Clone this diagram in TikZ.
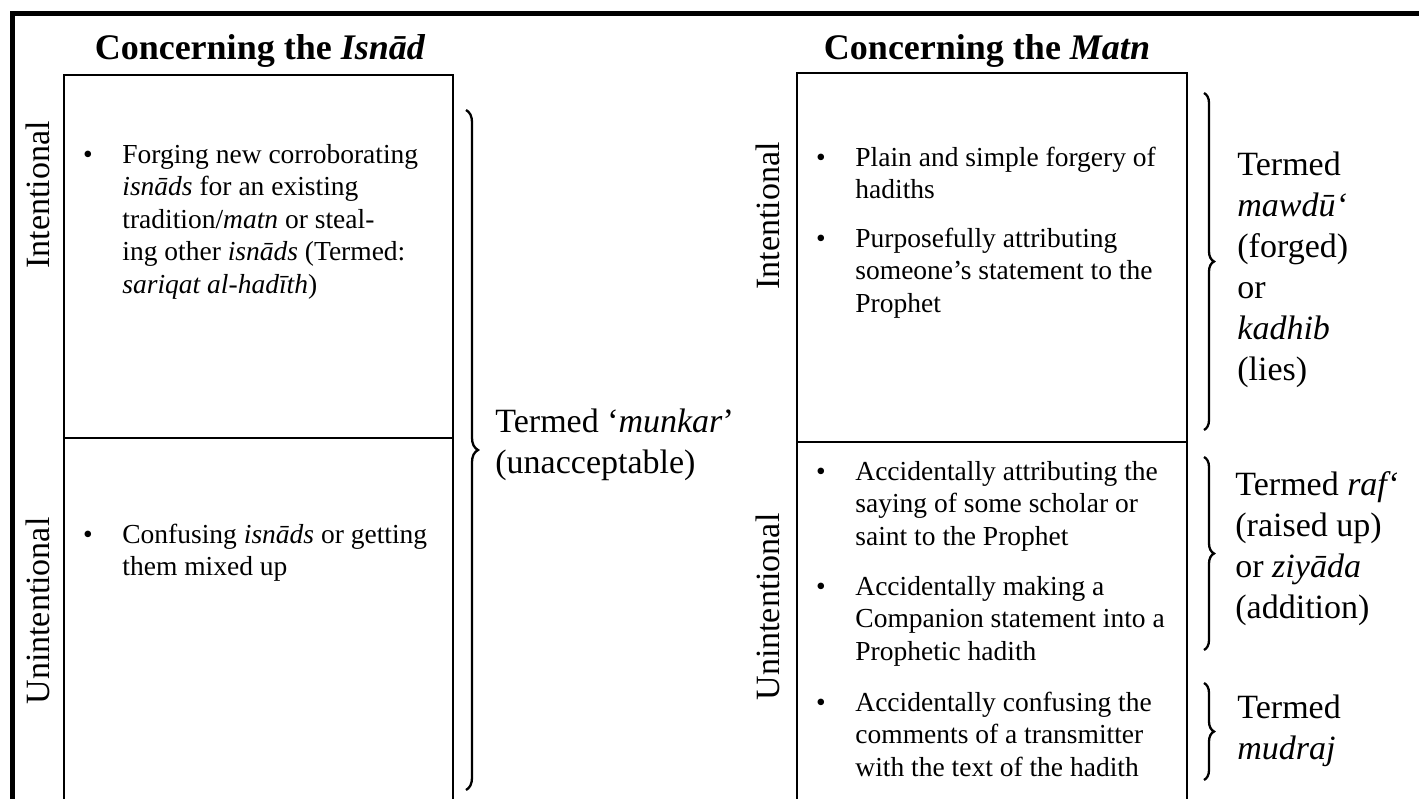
\documentclass[tikz,border=0pt]{standalone}
\usepackage{fontspec}
\setmainfont{Liberation Serif}
\usetikzlibrary{decorations.pathreplacing}
\newcommand{\tabl}[1]{\begin{tabular}[t]{@{}l@{}}#1\end{tabular}}

\begin{document}
\begin{tikzpicture}[x=0.5pt,y=-0.5pt,
    frame/.style={line width=2.5pt},
    box/.style={line width=1pt},
    sep/.style={line width=0.6pt},
    body/.style={inner sep=0pt,anchor=base west,font=\fontsize{13.75}{16.25}\selectfont},
    dot/.style={inner sep=0pt,anchor=base,font=\fontsize{13.75}{16.25}\selectfont},
    term/.style={inner sep=0pt,anchor=base west,font=\fontsize{17}{20.5}\selectfont},
    side/.style={inner sep=0pt,rotate=90,font=\fontsize{17}{20}\selectfont},
    head/.style={inner sep=0pt,anchor=base,font=\fontsize{18}{22}\selectfont\bfseries},
    curly/.style={decorate,decoration={brace,amplitude=#1},line width=1.15pt}]
                \useasboundingbox (0,0) rectangle (1419,798);
                \draw[frame] (10,13) -- (1430,13);
                \draw[frame] (12,11) -- (12,810);

                % headings
                \node[head] (hisnad) at (260,59) {Concerning the \textit{Isnād}};
                \node[head] (hmatn) at (987,59) {Concerning the \textit{Matn}};

                % boxes
                \coordinate (ia) at (64,75);
                \coordinate (ib) at (453,830);
                \coordinate (ma) at (797,73);
                \coordinate (mb) at (1187,830);
                \draw[box] (ia) rectangle (ib);
                \draw[box] (ma) rectangle (mb);
                \draw[sep] (64,438) -- (453,438);
                \draw[sep] (797,442) -- (1187,442);

                % side labels
                \node[side] (iint) at (38,195) {Intentional};
                \node[side] (iunint) at (38,611) {Unintentional};
                \node[side] (mint) at (768,216) {Intentional};
                \node[side] (munint) at (768,607) {Unintentional};

                % isnad items
                \node[dot] (id1) at (88,163) {\textbullet};
                \node[body] (it1) at (122,163) {\tabl{Forging new corroborating\\ \textit{isnāds} for an existing\\ tradition/\textit{matn} or steal-\\ ing other \textit{isnāds} (Termed:\\ \textit{sariqat al-hadīth})}};
                \node[dot] (id2) at (88,543) {\textbullet};
                \node[body] (it2) at (122,543) {\tabl{Confusing \textit{isnāds} or getting\\ them mixed up}};

                % matn items
                \node[dot] (md1) at (821,166) {\textbullet};
                \node[body] (mt1) at (855,166) {\tabl{Plain and simple forgery of\\ hadiths}};
                \node[dot] (md2) at (821,247) {\textbullet};
                \node[body] (mt2) at (855,247) {\tabl{Purposefully attributing\\ someone’s statement to the\\ Prophet}};
                \node[dot] (md3) at (821,480) {\textbullet};
                \node[body] (mt3) at (855,480) {\tabl{Accidentally attributing the\\ saying of some scholar or\\ saint to the Prophet}};
                \node[dot] (md4) at (821,595) {\textbullet};
                \node[body] (mt4) at (855,595) {\tabl{Accidentally making a\\ Companion statement into a\\ Prophetic hadith}};
                \node[dot] (md5) at (821,711) {\textbullet};
                \node[body] (mt5) at (855,711) {\tabl{Accidentally confusing the\\ comments of a transmitter\\ with the text of the hadith}};

                % braces and terms
                \coordinate (b0t) at (466,110);
                \coordinate (b0b) at (466,790);
                \coordinate (b1t) at (1204,93);
                \coordinate (b1b) at (1204,430);
                \coordinate (b2t) at (1204,457);
                \coordinate (b2b) at (1204,650);
                \coordinate (b3t) at (1204,683);
                \coordinate (b3b) at (1204,780);
                \draw[curly=6pt] (b0t) -- (b0b);
                \draw[curly=5pt] (b1t) -- (b1b);
                \draw[curly=5pt] (b2t) -- (b2b);
                \draw[curly=5pt] (b3t) -- (b3b);

                \node[term] (munkar) at (495,432) {\tabl{Termed ‘\textit{munkar}’\\ (unacceptable)}};
                \node[term] (mawdu) at (1237,175) {\tabl{Termed\\ \textit{mawdū‘}\\ (forged)\\ or\\ \textit{kadhib}\\ (lies)}};
                \node[term] (rafc) at (1235,495) {\tabl{Termed \textit{raf‘}\\ (raised up)\\ or \textit{ziyāda}\\ (addition)}};
                \node[term] (mudraj) at (1237,718) {\tabl{Termed\\ \textit{mudraj}}};

            \end{tikzpicture}
\end{document}
